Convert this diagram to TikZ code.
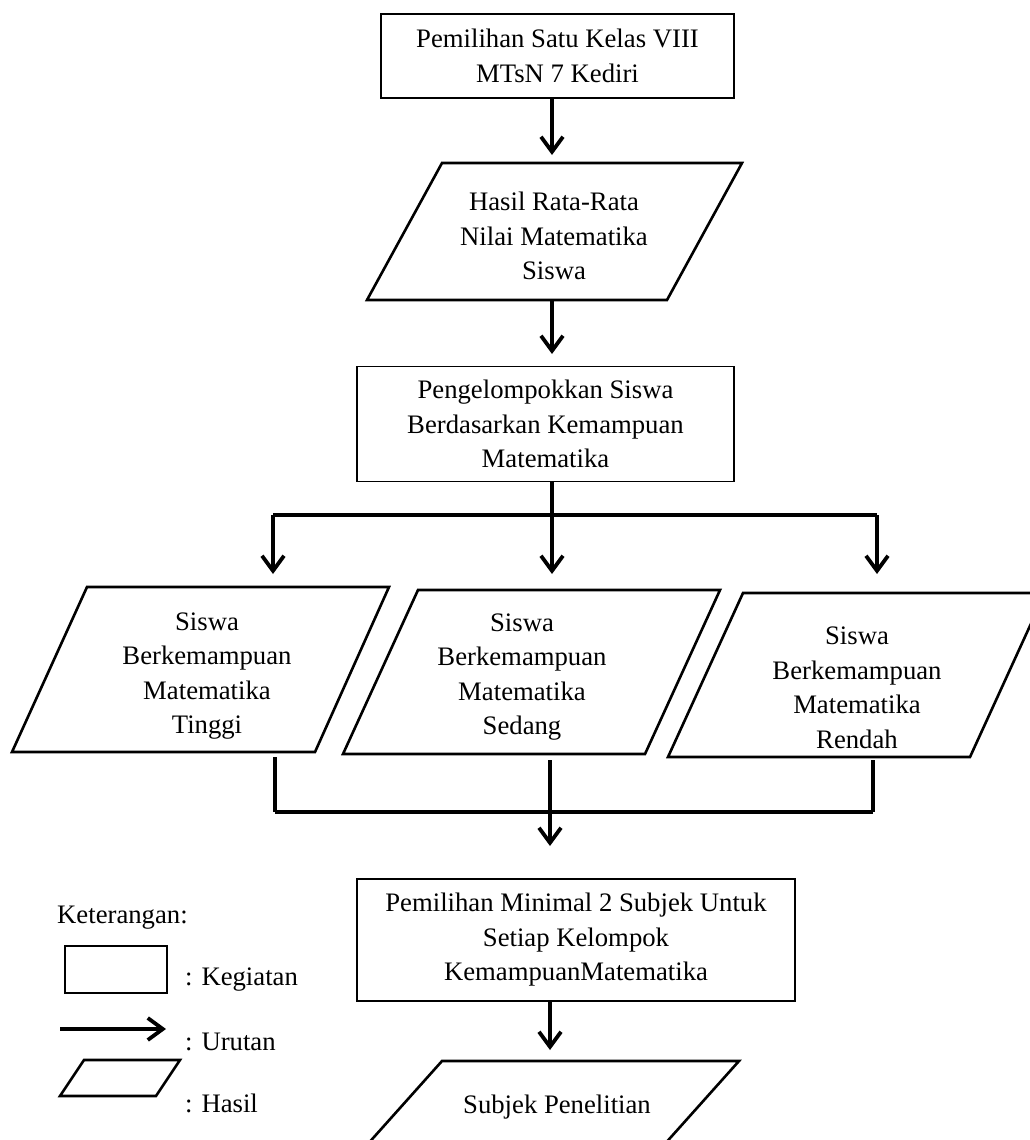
\documentclass[tikz,border=0pt]{standalone}
\usepackage{fontspec}
\setmainfont{Liberation Serif}
\usetikzlibrary{arrows.meta}
\begin{document}
\begin{tikzpicture}[x=1pt,y=-1pt,
  txt/.style={font=\fontsize{26.7}{34.5}\selectfont, align=center, inner sep=0pt},
  kbox/.style={draw, line width=1.8pt, txt, minimum width=#1},
  para/.style={draw, line width=2.6pt, line join=miter},
  conn/.style={line width=3.8pt},
  arr/.style={line width=3.8pt, -{Straight Barb[length=15pt,width=22pt]}}
]
\clip (0,0) rectangle (1030,1140);
\fill[white] (0,0) rectangle (1030,1140);

% Box 1
\node[kbox=353pt, minimum height=84pt] (b1) at (557.5,56) {Pemilihan Satu Kelas VIII\\MTsN 7 Kediri};

% Parallelogram 1
\draw[para] (442,163) -- (742,163) -- (667,300) -- (367,300) -- cycle;
\coordinate (p1top) at (552,155);
\coordinate (p1bot) at (552,300);
\node[txt] (t1) at (554,236) {Hasil Rata-Rata\\Nilai Matematika\\Siswa};

% Box 3
\node[kbox=377pt, minimum height=115pt] (b3) at (545.5,424) {Pengelompokkan Siswa\\Berdasarkan Kemampuan\\Matematika};

\coordinate (b1s) at (552,98);
\coordinate (b3n) at (552,354);
\coordinate (b3s) at (552,481);
\draw[arr] (b1s) -- (p1top);
\draw[arr] (p1bot) -- (b3n);

% Fork
\coordinate (fork) at (552,515);
\coordinate (forkL) at (273,515);
\coordinate (forkR) at (877,515);
\coordinate (inL) at (273,574);
\coordinate (inM) at (552,574);
\coordinate (inR) at (877,574);
\draw[conn] (b3s) -- (fork);
\draw[conn] (forkL) -- (forkR);
\draw[arr] (forkL) -- (inL);
\draw[arr] (fork) -- (inM);
\draw[arr] (forkR) -- (inR);

% Three result parallelograms
\draw[para] (87,587) -- (389,587) -- (315,752) -- (12,752) -- cycle;
\node[txt] (tT) at (207,676) {Siswa\\Berkemampuan\\Matematika\\Tinggi};
\draw[para] (418,590) -- (720,590) -- (645,754) -- (343,754) -- cycle;
\node[txt] (tS) at (522,677) {Siswa\\Berkemampuan\\Matematika\\Sedang};
\draw[para] (743,593) -- (1045,593) -- (970,757) -- (668,757) -- cycle;
\node[txt] (tR) at (857,688) {Siswa\\Berkemampuan\\Matematika\\Rendah};

% Merge
\coordinate (oL) at (275,757);
\coordinate (oM) at (550,760);
\coordinate (oR) at (873,760);
\coordinate (mL) at (275,812);
\coordinate (mR) at (873,812);
\coordinate (b4n) at (550,846);
\draw[conn] (oL) -- (mL);
\draw[conn] (oR) -- (mR);
\draw[conn] (mL) -- (mR);
\draw[arr] (oM) -- (b4n);

% Box 4
\node[kbox=438pt, minimum height=122pt] (b4) at (576,940) {Pemilihan Minimal 2 Subjek Untuk\\Setiap Kelompok\\KemampuanMatematika};
\coordinate (b4s) at (550,1001);
\coordinate (p5top) at (550,1050);
\draw[arr] (b4s) -- (p5top);

% Final parallelogram
\draw[para] (442,1061) -- (739,1061) -- (663,1146) -- (366,1146) -- cycle;
\node[txt] (t5) at (557,1107) {Subjek Penelitian};

% Legend
\node[txt, anchor=west] (ket) at (57,918) {Keterangan:};
\draw[line width=2.2pt] (65,946) rectangle (167,993);
\node[txt, anchor=west] (lk) at (185,980) {: Kegiatan};
\coordinate (la) at (60,1029);
\coordinate (lb) at (166,1029);
\draw[arr] (la) -- (lb);
\node[txt, anchor=west] (lu) at (185,1042) {: Urutan};
\draw[para] (84,1060) -- (180,1060) -- (156,1096) -- (60,1096) -- cycle;
\node[txt, anchor=west] (lh) at (185,1103) {: Hasil};
\end{tikzpicture}
\end{document}
